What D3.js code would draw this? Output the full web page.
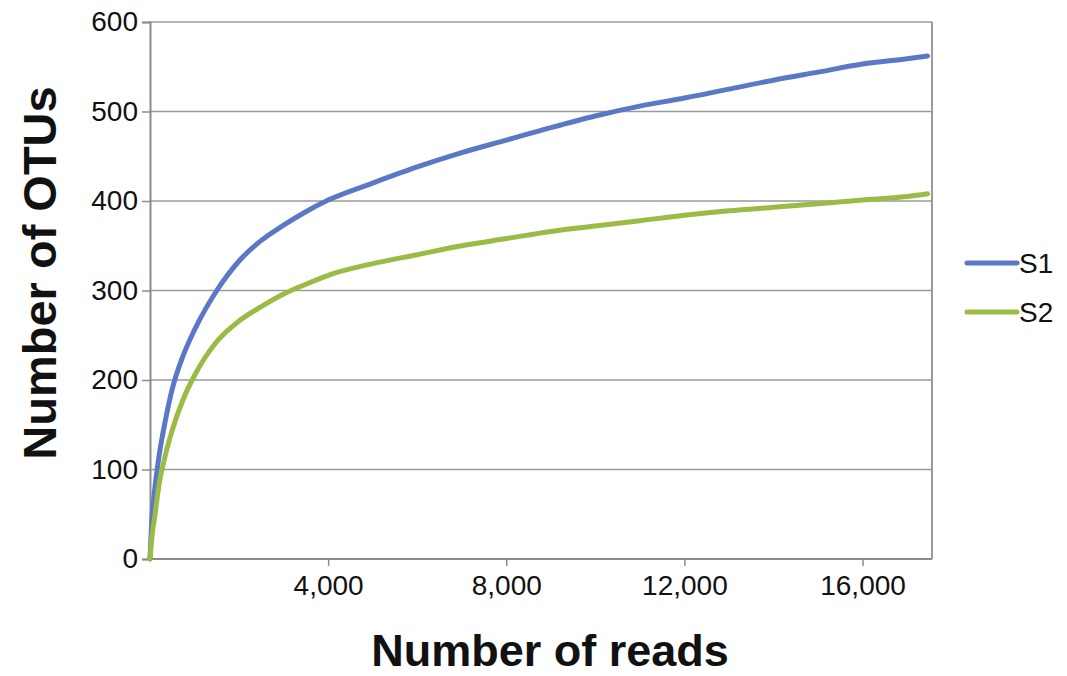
<!DOCTYPE html>
<html>
<head>
<meta charset="utf-8">
<script src="https://cdn.jsdelivr.net/npm/d3@7"></script>
<style>
  body { margin: 0; background: #fff; }
  svg text { font-family: "Liberation Sans", Arial, sans-serif; fill: #111; }
</style>
</head>
<body>
<div id="chart"></div>
<script>
// Values
const reads = [0, 50, 100, 200, 350, 500, 750, 1000, 1500, 2000, 2500, 3000, 3500, 4000, 5000,
  6000, 7000, 8000, 9000, 10000, 11000, 12000, 13000, 14000, 15000, 16000, 17000, 17460];
const s1 = [0, 50, 75, 114, 156, 190, 228, 256, 300, 333, 356, 373, 388, 401, 420,
  438, 454, 468, 482, 495, 506, 515, 525, 535, 544, 553, 559, 562];
const s2 = [0, 28, 45, 82, 117, 144, 179, 205, 243, 266, 282, 296, 307, 317, 330,
  340, 350, 358, 366, 372, 378, 384, 389, 393, 397, 401, 405, 408];
const seriesNames = ["S1", "S2"];
const xTicks = [4000, 8000, 12000, 16000];
const yTicks = [0, 100, 200, 300, 400, 500, 600];

const colors = ["#5b78c6", "#9bbb45"];
const width = 1067, height = 676;
const mLeft = 150, mRight = 932, mTop = 22, mBottom = 559;

const svg = d3.select("#chart").append("svg")
  .attr("width", width)
  .attr("height", height);

const x = d3.scaleLinear().domain([0, 17560]).range([mLeft, mRight]);
const y = d3.scaleLinear().domain([0, 600]).range([mBottom, mTop]);

// gridlines
svg.append("g")
  .selectAll("line")
  .data(yTicks.filter(d => d > 0))
  .enter().append("line")
  .attr("x1", mLeft).attr("x2", mRight)
  .attr("y1", d => y(d)).attr("y2", d => y(d))
  .attr("stroke", "#9a9a9a")
  .attr("stroke-width", 1.5);

// right border
svg.append("line")
  .attr("x1", mRight).attr("x2", mRight)
  .attr("y1", mTop).attr("y2", mBottom)
  .attr("stroke", "#9a9a9a")
  .attr("stroke-width", 2);

const yAxis = d3.axisLeft(y).tickValues(yTicks).tickSize(8).tickPadding(4);
const gy = svg.append("g").attr("transform", `translate(${mLeft},0)`).call(yAxis);
gy.selectAll("text").style("font-size", "28px");

const xAxis = d3.axisBottom(x).tickValues(xTicks).tickSize(7).tickPadding(9)
  .tickFormat(d3.format(","));
const gx = svg.append("g").attr("transform", `translate(0,${mBottom})`).call(xAxis);
gx.selectAll("text").style("font-size", "28px");

[gx, gy].forEach(g => {
  g.select(".domain").attr("stroke", "#8c8c8c").attr("stroke-width", 2);
  g.selectAll(".tick line").attr("stroke", "#8c8c8c").attr("stroke-width", 1.5);
});
gx.select(".domain").attr("d", `M${mLeft},0H${mRight}`);

const line = d3.line()
  .x((d, i) => x(reads[i]))
  .y(d => y(d))
  .curve(d3.curveMonotoneX);

[s1, s2].forEach((s, i) => {
  svg.append("path")
    .datum(s)
    .attr("d", line)
    .attr("fill", "none")
    .attr("stroke", colors[i])
    .attr("stroke-width", 5)
    .attr("stroke-linecap", "round");
});

// legend
const legend = svg.append("g");
seriesNames.forEach((name, i) => {
  const ly = 263 + i * 49;
  legend.append("line")
    .attr("x1", 967).attr("x2", 1017)
    .attr("y1", ly).attr("y2", ly)
    .attr("stroke", colors[i])
    .attr("stroke-width", 5)
    .attr("stroke-linecap", "round");
  legend.append("text")
    .attr("x", 1019).attr("y", ly + 10)
    .style("font-size", "28px")
    .text(name);
});

// axis titles
svg.append("text")
  .attr("x", 550).attr("y", 666)
  .attr("text-anchor", "middle")
  .style("font-size", "45px").style("font-weight", "bold")
  .text("Number of reads");

svg.append("text")
  .attr("transform", "translate(56,273) rotate(-90)")
  .attr("text-anchor", "middle")
  .style("font-size", "47px").style("font-weight", "bold")
  .text("Number of OTUs");
</script>
</body>
</html>
